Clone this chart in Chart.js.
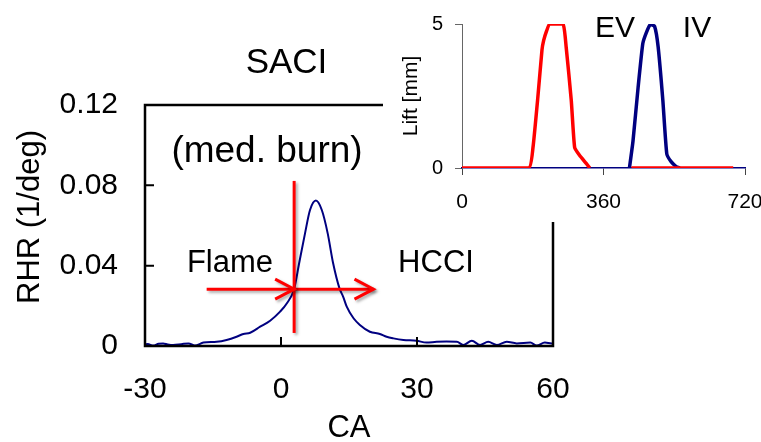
<!DOCTYPE html>
<html>
<head>
<meta charset="utf-8">
<script src="https://cdn.jsdelivr.net/npm/chart.js@4.4.1/dist/chart.umd.min.js"></script>
<style>
    html, body { margin: 0; padding: 0; background: #fff; overflow: hidden; }
    #wrap { position: relative; width: 761px; height: 442px; }
    #mainChart { position: absolute; left: 0; top: 0; }
    #inset { position: absolute; left: 383px; top: 0; width: 400px; height: 222px; background: #fff; }
</style>
</head>
<body>
<div id="wrap">
    <canvas id="mainChart" width="761" height="442"></canvas>
    <div id="inset"><canvas id="liftChart" width="400" height="222"></canvas></div>
</div>
<script>
// Main plot: rate of heat release vs crank angle
const caValues = [-30, -29.4, -28.2, -27, -26, -25, -23.8, -22, -20.4, -19, -17.1, -14.2, -12, -9.8, -8.3, -6.8,
    -4.6, -2.4, -0.2, 1.3, 2.9, 4.0, 5.3, 6.4, 7.7, 9.0, 10.3, 11.5, 12.9, 13.7, 14.5, 16, 17.4, 19.6, 21.8,
    23.3, 24.8, 27, 29.9, 32.1, 34.3, 36.5, 38.8, 40.2, 42.1, 43.9, 45.7, 47.6, 49.8, 52, 55, 56.4, 58.2, 59.7, 60];
const rhrValues = [0.0008, 0.001, 0.0002, 0.0011, 0.0013, 0.0008, 0.0005, 0.0009, 0.0013, 0.0002, 0.0017, 0.0021,
    0.003, 0.0046, 0.006, 0.0066, 0.0096, 0.0126, 0.0171, 0.0213, 0.0284, 0.0412, 0.0561, 0.0677, 0.0724, 0.0677,
    0.0561, 0.0412, 0.0287, 0.0246, 0.0196, 0.0138, 0.0105, 0.0071, 0.006, 0.0046, 0.0038, 0.003, 0.0026, 0.0017,
    0.0021, 0.0022, 0.0021, 0.0005, 0.0026, 0.0005, 0.0021, 0.0005, 0.0021, 0.0013, 0.0017, 0.0002, 0.0017, 0.0013, 0.0015];
const caTicks = [-30, 0, 30, 60];
const rhrTicks = [0, 0.04, 0.08, 0.12];

// Flame / HCCI transition marker (red lines)
const markerCA = 2.9;
const markerRHR = [0.0065, 0.0822];
const arrowRHR = 0.0283;
const flameArrowCA = [-16.4, 2.9];
const hcciArrowCA = [2.9, 20.4];

// Inset: valve lift vs crank angle
const evAngle = [0, 170, 180.6, 193, 203.5, 207.8, 215, 223, 257, 265, 278, 286.6, 299, 316, 325, 378, 431, 690];
const evLift = [0, 0, 0.71, 2.46, 4.1, 4.43, 4.75, 5, 5, 4.2, 2.35, 0.71, 0.44, 0.16, 0, null, 0, 0];
const ivAngle = [426, 435, 448, 460, 469, 479, 490, 499, 511, 521, 532, 545, 554];
const ivLift = [0, 0.93, 2.79, 4.32, 4.7, 4.98, 4.92, 4.21, 2.35, 0.49, 0.22, 0.05, 0];
const angleTicks = [0, 360, 720];
const liftTicks = [0, 5];

const FONT = "'Liberation Sans', Arial, sans-serif";
const RED = '#ff0000';
const NAVY = '#000080';

const toPoints = (xs, ys) => xs.map((x, i) => ({ x: x, y: ys[i] }));

function setShadow(ctx) {
    ctx.shadowColor = 'rgba(0, 0, 0, 0.35)';
    ctx.shadowBlur = 3;
    ctx.shadowOffsetX = 2;
    ctx.shadowOffsetY = 2;
}

const mainDecor = {
    id: 'mainDecor',
    beforeDatasetDraw(chart, args) {
        if (chart.data.datasets[args.index].shadow) {
            chart.ctx.save();
            setShadow(chart.ctx);
        }
    },
    afterDatasetDraw(chart, args) {
        if (chart.data.datasets[args.index].shadow) chart.ctx.restore();
    },
    afterDatasetsDraw(chart) {
        const ctx = chart.ctx;
        const xs = chart.scales.x, ys = chart.scales.y;
        // arrow heads
        ctx.save();
        setShadow(ctx);
        ctx.strokeStyle = RED;
        ctx.lineWidth = 3;
        [flameArrowCA[1], hcciArrowCA[1]].forEach(ca => {
            const tx = xs.getPixelForValue(ca), ty = ys.getPixelForValue(arrowRHR);
            ctx.beginPath();
            ctx.moveTo(tx - 19, ty - 10);
            ctx.lineTo(tx, ty);
            ctx.lineTo(tx - 19, ty + 10);
            ctx.stroke();
        });
        ctx.restore();
    },
    afterDraw(chart) {
        const ctx = chart.ctx;
        const a = chart.chartArea;
        const xs = chart.scales.x, ys = chart.scales.y;
        ctx.save();
        // frame
        ctx.strokeStyle = '#000';
        ctx.lineWidth = 2.5;
        ctx.strokeRect(a.left, a.top, a.right - a.left, a.bottom - a.top);
        // inward ticks
        ctx.lineWidth = 2;
        ctx.beginPath();
        rhrTicks.forEach(v => {
            const y = ys.getPixelForValue(v);
            ctx.moveTo(a.left, y);
            ctx.lineTo(a.left + 9, y);
        });
        caTicks.forEach(v => {
            const x = xs.getPixelForValue(v);
            ctx.moveTo(x, a.bottom);
            ctx.lineTo(x, a.bottom - 9);
        });
        ctx.stroke();
        // texts
        ctx.fillStyle = '#000';
        ctx.textAlign = 'center';
        ctx.textBaseline = 'alphabetic';
        ctx.font = '35px ' + FONT;
        ctx.fillText('SACI', 286.5, 73);
        ctx.font = '37px ' + FONT;
        ctx.fillText('(med. burn)', 267, 162);
        ctx.font = '31px ' + FONT;
        ctx.fillText('Flame', 230, 272);
        ctx.fillText('HCCI', 436, 272);
        // y axis title
        ctx.translate(30, 217);
        ctx.rotate(-Math.PI / 2);
        ctx.textBaseline = 'middle';
        ctx.fillText('RHR (1/deg)', 0, 0);
        ctx.restore();
    }
};

new Chart(document.getElementById('mainChart'), {
    type: 'line',
    data: {
        datasets: [
            {
                data: toPoints([markerCA, markerCA], markerRHR),
                borderColor: RED, borderWidth: 3, pointRadius: 0, tension: 0, shadow: true
            },
            {
                data: toPoints(flameArrowCA, [arrowRHR, arrowRHR]),
                borderColor: RED, borderWidth: 3, pointRadius: 0, tension: 0, shadow: true
            },
            {
                data: toPoints(hcciArrowCA, [arrowRHR, arrowRHR]),
                borderColor: RED, borderWidth: 3, pointRadius: 0, tension: 0, shadow: true
            },
            {
                data: toPoints(caValues, rhrValues),
                borderColor: NAVY, borderWidth: 2, pointRadius: 0,
                cubicInterpolationMode: 'monotone'
            }
        ]
    },
    options: {
        responsive: false,
        animation: false,
        layout: { padding: { top: 105, right: 208, left: 0, bottom: 0 } },
        plugins: { legend: { display: false }, tooltip: { enabled: false } },
        scales: {
            x: {
                type: 'linear',
                min: caTicks[0],
                max: caTicks[caTicks.length - 1],
                afterBuildTicks: s => { s.ticks = caTicks.map(v => ({ value: v })); },
                afterFit: s => { s.height = 96; },
                grid: { display: false, drawTicks: false },
                border: { display: false },
                ticks: { color: '#000', padding: 26, font: { family: FONT, size: 30 } },
                title: {
                    display: true, text: 'CA', color: '#000',
                    padding: 0, font: { family: FONT, size: 31, lineHeight: 0.9 }
                }
            },
            y: {
                type: 'linear',
                min: rhrTicks[0],
                max: rhrTicks[rhrTicks.length - 1],
                afterBuildTicks: s => { s.ticks = rhrTicks.map(v => ({ value: v })); },
                afterFit: s => { s.width = 145; },
                grid: { display: false, drawTicks: false },
                border: { display: false },
                ticks: { color: '#000', padding: 27, font: { family: FONT, size: 30 } }
            }
        }
    },
    plugins: [mainDecor]
});

const liftDecor = {
    id: 'liftDecor',
    afterDraw(chart) {
        const ctx = chart.ctx;
        ctx.save();
        ctx.fillStyle = '#000';
        ctx.textAlign = 'center';
        ctx.textBaseline = 'alphabetic';
        ctx.font = '30px ' + FONT;
        ctx.fillText('EV', 232, 37);
        ctx.fillText('IV', 314, 37);
        ctx.restore();
    }
};

new Chart(document.getElementById('liftChart'), {
    type: 'line',
    data: {
        datasets: [
            {
                data: toPoints(evAngle, evLift),
                borderColor: RED, borderWidth: 3.5, pointRadius: 0, tension: 0.15, spanGaps: false
            },
            {
                data: toPoints(ivAngle, ivLift),
                borderColor: NAVY, borderWidth: 3.5, pointRadius: 0, tension: 0.15
            }
        ]
    },
    options: {
        responsive: false,
        animation: false,
        layout: { padding: { top: 16, right: 38, left: 0, bottom: 0 } },
        plugins: { legend: { display: false }, tooltip: { enabled: false } },
        scales: {
            x: {
                type: 'linear',
                min: angleTicks[0],
                max: angleTicks[angleTicks.length - 1],
                afterBuildTicks: s => { s.ticks = angleTicks.map(v => ({ value: v })); },
                afterFit: s => { s.height = 54; },
                grid: { drawOnChartArea: false, drawTicks: true, tickLength: 7, color: '#444', lineWidth: 1 },
                border: { display: true, color: NAVY, width: 1.5 },
                ticks: { color: '#000', padding: 15, font: { family: FONT, size: 21 } }
            },
            y: {
                type: 'linear',
                min: liftTicks[0],
                max: liftTicks[liftTicks.length - 1],
                afterBuildTicks: s => { s.ticks = liftTicks.map(v => ({ value: v })); },
                afterFit: s => { s.width = 79; },
                grid: { drawOnChartArea: false, drawTicks: true, tickLength: 7, color: '#666', lineWidth: 1 },
                border: { display: true, color: '#666', width: 1 },
                ticks: { color: '#000', padding: 12, font: { family: FONT, size: 20 } },
                title: {
                    display: true, text: 'Lift [mm]', color: '#000',
                    padding: { top: 16, bottom: 0 }, font: { family: FONT, size: 21 }
                }
            }
        }
    },
    plugins: [liftDecor]
});
</script>
</body>
</html>
